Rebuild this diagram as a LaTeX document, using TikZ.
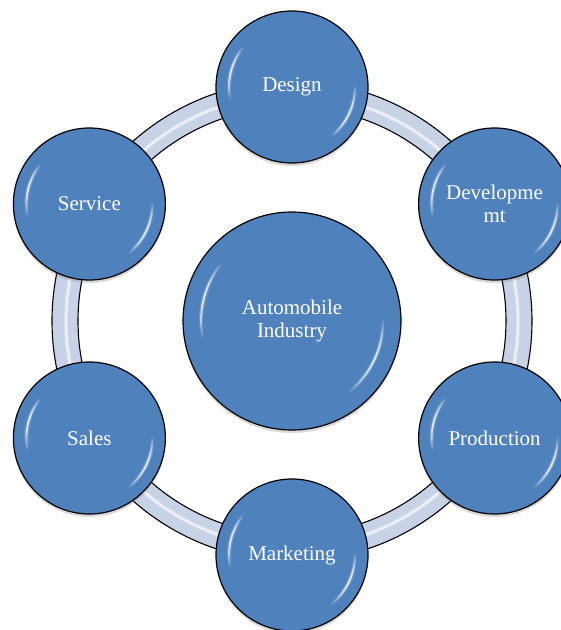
\documentclass[tikz,border=0pt]{standalone}
\usepackage{fontspec}
\setmainfont{Liberation Serif}
\usetikzlibrary{shadows}
\definecolor{cblue}{HTML}{4F81BD}
\definecolor{ringc}{HTML}{C8D2E7}
% soft highlight arc: #1 start angle, #2 end angle, #3 radius
\newcommand{\softarc}[3]{%
  \foreach \k in {0,...,23}{%
    \pgfmathsetmacro{\aa}{#1+(#2-#1)*\k/24}%
    \pgfmathsetmacro{\bb}{#1+(#2-#1)*(\k+1)/24}%
    \pgfmathsetmacro{\op}{sin(180*(\k+0.5)/24)}%
    \draw[white, line width=4.5pt, opacity=0.18*\op] (\aa:#3) arc (\aa:\bb:#3);
    \draw[white, line width=1.8pt, opacity=0.8*\op] (\aa:#3) arc (\aa:\bb:#3);
  }}
\newcommand{\glossy}[2]{%
  \begin{scope}[shift={(#1.center)},x=1pt,y=1pt]
    \softarc{140}{192}{#2}
    \softarc{-52}{2}{#2}
  \end{scope}}
\begin{document}
\begin{tikzpicture}[x=1pt,y=-1pt,
  bubble/.style={circle, draw=black, line width=1.2pt, fill=cblue, minimum size=152pt,
    inner sep=0pt, text=white, font=\fontsize{21}{22.5}\selectfont, align=center,
    drop shadow={opacity=0.3, shadow xshift=0pt, shadow yshift=-3pt}},
  hub/.style={bubble, minimum size=218pt}]
\useasboundingbox (0,0) rectangle (561,630);
\coordinate (c) at (292,321);
% ring
\fill[ringc, even odd rule] (c) circle (240pt) (c) circle (214pt);
\draw[white, line width=4pt, opacity=0.35] (c) circle (226pt);
\draw[white, line width=1.5pt, opacity=0.6] (c) circle (226pt);
\draw[black, line width=1.1pt] (c) circle (240pt);
\draw[black, line width=1.1pt] (c) circle (214pt);
% nodes
\node[hub] (hub) at (c) {Automobile\\Industry};
\node[bubble] (design) at (292,87) {Design};
\node[bubble] (dev) at (494.6,204) {Developme\\mt};
\node[bubble] (prod) at (494.6,438) {Production};
\node[bubble] (mark) at (292,555) {Marketing};
\node[bubble] (sales) at (89.4,438) {Sales};
\node[bubble] (serv) at (89.4,204) {Service};
\glossy{hub}{91}
\glossy{design}{63}
\glossy{dev}{63}
\glossy{prod}{63}
\glossy{mark}{63}
\glossy{sales}{63}
\glossy{serv}{63}
\end{tikzpicture}
\end{document}
